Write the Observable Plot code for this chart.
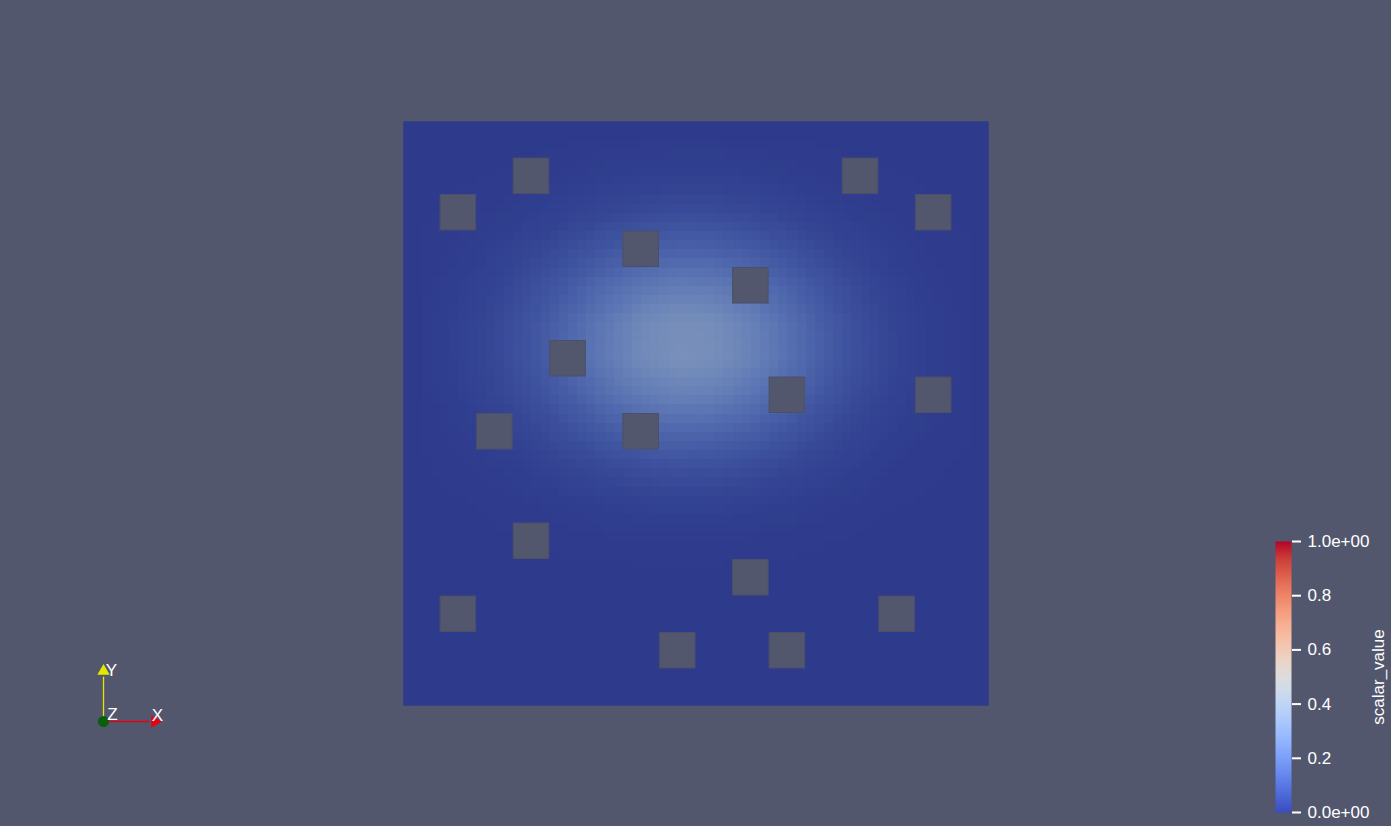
<!DOCTYPE html>
<html>
<head>
<meta charset="utf-8">
<script src="https://cdn.jsdelivr.net/npm/d3@7"></script>
<script src="https://cdn.jsdelivr.net/npm/@observablehq/plot@0.6"></script>
<style>
  html, body { margin: 0; padding: 0; background: #52576E; overflow: hidden; }
  #stage { position: relative; width: 1391px; height: 826px; }
  #stage svg { position: absolute; left: 0; top: 0; }
</style>
</head>
<body>
<div id="stage"></div>
<script>
// ---------- data ----------
// scalar field sampled at the centre of each of the 16 x 16 grid cells (row 0 = top)
const fieldRow00 = [0,0,0,0,0.001,0.003,0.004,0.004,0.004,0.003,0.002,0.001,0,0,0,0];
const fieldRow01 = [0,0.001,0.002,0.004,0.007,0.011,0.014,0.015,0.015,0.013,0.009,0.005,0.003,0.002,0.001,0];
const fieldRow02 = [0.001,0.003,0.006,0.012,0.022,0.034,0.044,0.050,0.048,0.040,0.028,0.017,0.009,0.004,0.002,0.001];
const fieldRow03 = [0.003,0.006,0.015,0.030,0.053,0.080,0.104,0.115,0.112,0.093,0.067,0.041,0.022,0.010,0.004,0.002];
const fieldRow04 = [0.004,0.012,0.027,0.055,0.095,0.143,0.185,0.207,0.200,0.166,0.119,0.074,0.039,0.018,0.007,0.003];
const fieldRow05 = [0.005,0.016,0.037,0.075,0.130,0.194,0.252,0.281,0.271,0.225,0.162,0.100,0.053,0.024,0.010,0.004];
const fieldRow06 = [0.005,0.016,0.038,0.077,0.133,0.200,0.259,0.289,0.279,0.231,0.167,0.103,0.055,0.025,0.010,0.004];
const fieldRow07 = [0.004,0.013,0.030,0.059,0.104,0.156,0.202,0.225,0.217,0.180,0.130,0.080,0.042,0.020,0.008,0.003];
const fieldRow08 = [0.003,0.007,0.017,0.035,0.061,0.092,0.119,0.133,0.128,0.106,0.077,0.047,0.025,0.012,0.005,0.002];
const fieldRow09 = [0.001,0.004,0.008,0.016,0.028,0.041,0.053,0.059,0.058,0.048,0.034,0.022,0.012,0.005,0.002,0.001];
const fieldRow10 = [0,0.001,0.003,0.005,0.009,0.014,0.018,0.020,0.019,0.016,0.012,0.007,0.004,0.002,0.001,0];
const fieldRow11 = [0,0,0.001,0.002,0.003,0.004,0.005,0.005,0.005,0.004,0.003,0.002,0.001,0,0,0];
const fieldRow12 = [0,0,0,0,0,0,0,0,0,0,0,0,0,0,0,0];
const fieldRow13 = [0,0,0,0,0,0,0,0,0,0,0,0,0,0,0,0];
const fieldRow14 = [0,0,0,0,0,0,0,0,0,0,0,0,0,0,0,0];
const fieldRow15 = [0,0,0,0,0,0,0,0,0,0,0,0,0,0,0,0];

// square holes in the domain: [column, row] (row 0 = top)
const holeCols = [3, 12, 1, 14, 6, 9, 4, 10, 14, 2, 6, 3, 9, 1, 13, 7, 10];
const holeRows = [1, 1, 2, 2, 3, 4, 6, 7, 7, 8, 8, 11, 12, 13, 13, 14, 14];

// colour bar
const colorbarTitle = "scalar_value";
const colorbarTicks = [0, 0.2, 0.4, 0.6, 0.8, 1.0];
const colorbarTickLabels = ["0.0e+00", "0.2", "0.4", "0.6", "0.8", "1.0e+00"];

// orientation triad
const triadAxes = ["X", "Y"];
const triadDX = [1, 0];
const triadDY = [0, 1];
const triadColors = ["#e8000b", "#e6e600"];

// Cool to Warm colour map stops
const coolWarmStops = [
  [59,76,192],[77,104,215],[98,130,234],[119,154,247],[141,176,254],[163,194,255],
  [184,208,249],[204,217,238],[221,221,221],[236,211,197],[245,196,173],[247,177,148],
  [244,154,123],[236,127,99],[222,96,77],[203,62,56],[180,4,38]
];

// ---------- build ----------
const W = 1391, H = 826;
const BG = "#52576E";
const FONT = "'Liberation Sans Narrow', 'Liberation Sans', Arial, sans-serif";
const fieldRows = [fieldRow00,fieldRow01,fieldRow02,fieldRow03,fieldRow04,fieldRow05,fieldRow06,fieldRow07,
                   fieldRow08,fieldRow09,fieldRow10,fieldRow11,fieldRow12,fieldRow13,fieldRow14,fieldRow15];
const samples = [];
fieldRows.forEach((row, r) => row.forEach((v, c) => samples.push({x: c + 0.5, y: r + 0.5, v})));
const holes = holeCols.map((c, i) => ({c, r: holeRows[i]}));

const coolWarm = d3.piecewise(d3.interpolateRgb, coolWarmStops.map(([r,g,b]) => d3.rgb(r,g,b)));
const shade = [0.78, 0.77, 0.73];
const shadedCoolWarm = t => {
  const c = d3.rgb(coolWarm(t));
  return d3.rgb(c.r * shade[0], c.g * shade[1], c.b * shade[2]).formatRgb();
};

const stage = document.getElementById("stage");

// main field
const main = Plot.plot({
  width: W, height: H,
  marginLeft: 403, marginRight: W - 988, marginTop: 121, marginBottom: H - 705,
  style: {background: BG, overflow: "visible"},
  x: {domain: [0, 16], axis: null},
  y: {domain: [0, 16], reverse: true, axis: null},
  color: {type: "linear", domain: [0, 1], interpolate: shadedCoolWarm},
  marks: [
    Plot.frame({fill: shadedCoolWarm(0), stroke: null}),
    Plot.raster(samples, {
      x: "x", y: "y", fill: "v",
      x1: 0, x2: 16, y1: 0, y2: 16,
      width: 64, height: 64,
      interpolate: "barycentric",
      imageRendering: "pixelated"
    }),
    Plot.rect(holes, {
      x1: d => d.c, x2: d => d.c + 1, y1: d => d.r, y2: d => d.r + 1,
      fill: BG, stroke: "#4b5068", strokeWidth: 1, inset: 0.5
    })
  ]
});
stage.appendChild(main);

// colour bar
const bar = Plot.plot({
  width: W, height: H,
  marginLeft: 1275, marginRight: W - 1291, marginTop: 541, marginBottom: H - 812,
  style: {background: "transparent", color: "white", fontFamily: FONT, overflow: "visible"},
  x: {domain: [0, 1], axis: null},
  y: {domain: [0, 1]},
  color: {type: "linear", domain: [0, 1], interpolate: coolWarm},
  marks: [
    Plot.raster({fill: (x, y) => y, x1: 0, x2: 1, y1: 0, y2: 1, width: 2, height: 256, imageRendering: "auto"}),
    Plot.axisY({
      anchor: "right", ticks: colorbarTicks, label: null,
      tickFormat: (d) => colorbarTickLabels[colorbarTicks.indexOf(d)],
      tickSize: 9, tickPadding: 7, strokeWidth: 2, fontSize: 17, fill: "white", stroke: "white"
    }),
    Plot.text([colorbarTitle], {
      text: d => d, frameAnchor: "middle", dx: 95, rotate: -90,
      fontSize: 17, fill: "white", fontFamily: "'Liberation Sans', Arial, sans-serif"
    })
  ]
});
stage.appendChild(bar);

// orientation triad
const triadData = triadAxes.map((name, i) => ({name, dx: triadDX[i], dy: triadDY[i], color: triadColors[i]}));
const triad = Plot.plot({
  width: W, height: H,
  marginLeft: 103, marginRight: W - 160, marginTop: 665, marginBottom: H - 721,
  style: {background: "transparent", fontFamily: FONT, overflow: "visible"},
  x: {domain: [0, 1], axis: null},
  y: {domain: [0, 1], axis: null},
  marks: [
    Plot.link(triadData, {x1: 0, y1: 0, x2: d => d.dx * 0.8, y2: d => d.dy * 0.8, stroke: d => d.color, strokeWidth: 1.3}),
    Plot.dot(triadData, {
      x: d => d.dx * 0.9, y: d => d.dy * 0.9, symbol: "triangle",
      rotate: d => d.dx ? 90 : 0, r: 4.6, fill: d => d.color, stroke: null
    }),
    Plot.dot([0], {x: 0, y: 0, r: 5.5, fill: "#0b5e0b", stroke: null}),
    Plot.text(triadData.filter(d => d.name === "X"), {x: d => d.dx, y: d => d.dy, text: "name", dx: -3, dy: -6, fill: "white", fontSize: 17}),
    Plot.text(triadData.filter(d => d.name === "Y"), {x: d => d.dx, y: d => d.dy, text: "name", dx: 8, dy: 5, fill: "white", fontSize: 17}),
    Plot.text(["Z"], {x: 0, y: 0, text: d => d, dx: 9, dy: -7, fill: "white", fontSize: 17})
  ]
});
stage.appendChild(triad);
</script>
</body>
</html>
